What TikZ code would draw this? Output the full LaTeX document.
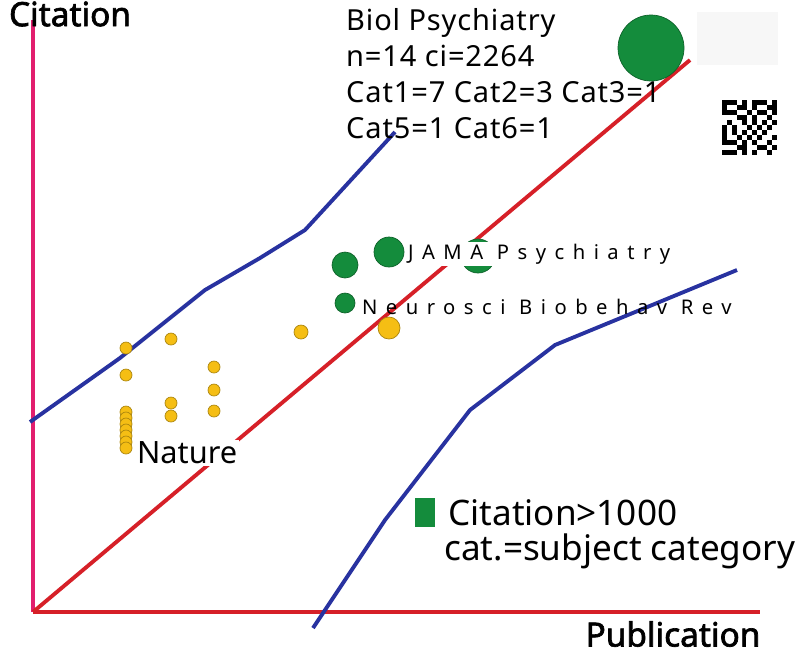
\documentclass[tikz,border=0pt]{standalone}
\usepackage{fontspec}
\setmainfont{Noto Sans}
\definecolor{axispink}{RGB}{226,30,110}
\definecolor{axisred}{RGB}{214,32,40}
\definecolor{lineblue}{RGB}{40,50,160}
\definecolor{dotgreen}{RGB}{20,140,60}
\definecolor{dotyellow}{RGB}{245,190,20}
\tikzset{
	gdot/.style={circle, fill=dotgreen, draw=dotgreen!70!black, inner sep=0pt},
	ydot/.style={circle, fill=dotyellow, draw=dotyellow!70!black, inner sep=0pt, minimum size=12*0.02cm},
	jlabel/.style={font=\fontsize{11.5}{13}\selectfont\addfontfeature{LetterSpace=42}, anchor=west, inner sep=1pt},
	infotext/.style={font=\fontsize{16.5}{20.5}\selectfont\addfontfeature{LetterSpace=3}, align=left, anchor=north west},
	axistitle/.style={font=\fontsize{19}{22}\selectfont\addfontfeature{FakeBold=2}},
}
\begin{document}
\begin{tikzpicture}[x=0.02cm,y=-0.02cm]
		\useasboundingbox (0,0) rectangle (800,654);
		% axes
		\draw[axispink, line width=2.4pt] (33,612) -- (33,20);
		\draw[axisred, line width=2.4pt] (33,612) -- (760,612);
		\node[axistitle] (ytitle) at (70,14) {Citation};
		\node[axistitle] (xtitle) at (673,634) {Publication};

		% reference lines
		\draw[axisred, line width=2.2pt] (33,612) -- (690,60);
		\draw[lineblue, line width=2.2pt] (30,422) -- (120,358) -- (205,290) -- (260,258) -- (305,230) -- (395,132);
		\draw[lineblue, line width=2.2pt] (313,628) -- (385,520) -- (470,410) -- (555,345) -- (640,310) -- (737,270);

		% top journal
		\fill[gray!6] (697,12) rectangle (778,65);
		\node[gdot, minimum size=66*0.02cm] (biol) at (651,48) {};
		\node[infotext] (info) at (340,2) {Biol Psychiatry\\n=14 ci=2264\\Cat1=7 Cat2=3 Cat3=1\\Cat5=1 Cat6=1};
		\foreach \i/\j in {0/0,0/1,0/2,0/5,0/6,0/7,0/8,0/10,1/0,1/2,1/4,1/8,1/10,2/0,2/2,2/5,2/6,2/8,2/10,3/1,3/3,3/7,3/9,4/0,4/1,4/3,4/4,4/6,4/8,4/9,4/10,5/2,5/5,5/7,6/0,6/1,6/3,6/4,6/6,6/8,6/10,7/0,7/2,7/5,7/7,7/9,8/0,8/2,8/4,8/6,8/9,9/1,9/3,9/5,9/8,9/10,10/0,10/1,10/2,10/4,10/7,10/9}
			\fill (722+5*\i,100+5*\j) rectangle ++(5,5);

		% green journals
		\node[gdot, minimum size=26*0.02cm] (g1) at (345,265) {};
		\node[gdot, minimum size=30*0.02cm] (g2) at (389,252) {};
		\node[gdot, minimum size=34*0.02cm] (jama) at (478,256) {};
		\node[gdot, minimum size=20*0.02cm] (neuro) at (345,303) {};
		\node[jlabel, fill=white] (jamalabel) at (406,254) {JAMA Psychiatry};
		\node[jlabel] (neurolabel) at (360,307) {Neurosci Biobehav Rev};

		% yellow journals
		\node[ydot, minimum size=22*0.02cm] (y1) at (389,328) {};
		\node[ydot, minimum size=14*0.02cm] (y2) at (301,332) {};
		\foreach \x/\y in {171/339,126/348,126/375,214/367,214/390,171/403,171/416,214/411}
			\node[ydot] at (\x,\y) {};
		\foreach \y in {412,418,...,448}
			\node[ydot] at (126,\y) {};
		\node[font=\fontsize{17.5}{19}\selectfont, fill=white, inner sep=1pt, anchor=west] (nature) at (135,453) {Nature};

		% legend
		\fill[dotgreen] (415,498) rectangle (435,527);
		\node[font=\fontsize{20}{22}\selectfont, anchor=west, inner sep=0pt] (leg1) at (448,513) {Citation>1000};
		\node[font=\fontsize{20}{22}\selectfont, anchor=west, inner sep=0pt] (leg2) at (444,551) {cat.=subject category};
	\end{tikzpicture}
\end{document}
